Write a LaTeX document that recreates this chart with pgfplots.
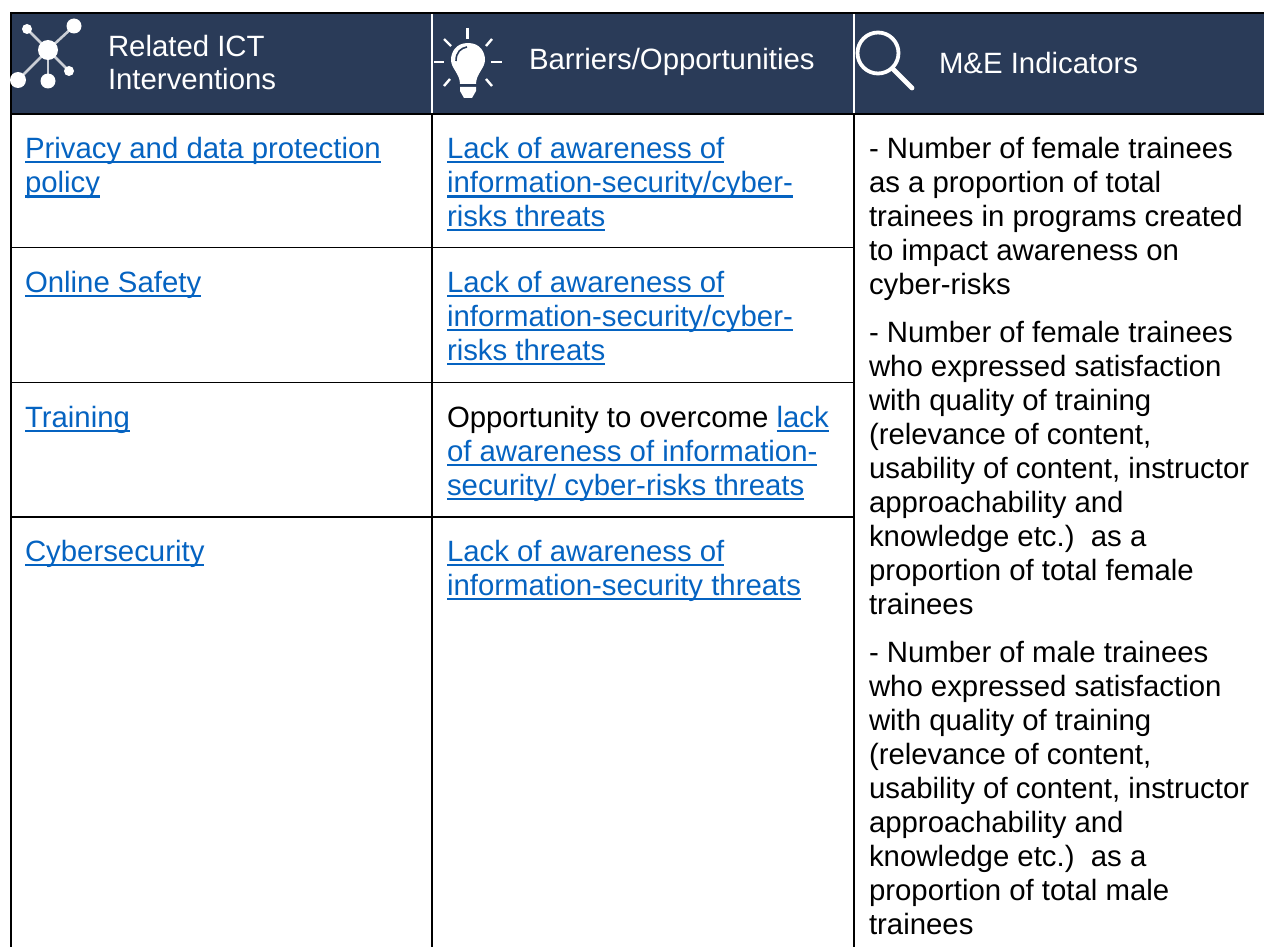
\documentclass[border=0pt]{standalone}
\usepackage{pgfplots}
\pgfplotsset{compat=1.18}
\usepackage{fontspec}
\setmainfont{Liberation Sans}
\definecolor{hdr}{HTML}{2A3B58}
\definecolor{lnk}{HTML}{0563C1}
\newcommand\T[3]{\node[anchor=base west,inner sep=0pt,outer sep=0pt] at (axis cs:#1,#2) {\fontsize{29.36}{34}\selectfont\strut#3};}
\newcommand\W[3]{\node[anchor=base west,inner sep=0pt,outer sep=0pt,text=white] at (axis cs:#1,#2) {\fontsize{29.36}{34}\selectfont\strut#3};}
\newsavebox\ulbox
\newcommand\U[1]{\sbox\ulbox{\color{lnk}#1}{\color{lnk}\rlap{\usebox\ulbox}\rule[-5.3pt]{\wd\ulbox}{2.3pt}}}
\begin{document}
\begin{tikzpicture}
\useasboundingbox (0pt,0pt) rectangle (1264pt,947pt);
\begin{axis}[at={(0pt,0pt)},anchor=south west,scale only axis,width=1264pt,height=947pt,
  xmin=0,xmax=1264,ymin=0,ymax=947,y dir=reverse,hide axis,clip=true]
\addplot[fill=hdr,draw=none] coordinates {(11,13) (1264,13) (1264,113) (11,113)} --cycle;
% table rules
\addplot[black,line width=2.2pt] coordinates {(10,13) (1264,13)};
\addplot[black,line width=2pt] coordinates {(10,114) (1264,114)};
\addplot[black,line width=1.9pt] coordinates {(11,12) (11,947)};
\addplot[black,line width=1.8pt] coordinates {(432,114) (432,947)};
\addplot[black,line width=1.8pt] coordinates {(854,114) (854,947)};
\addplot[white,line width=1.8pt] coordinates {(431.6,14) (431.6,113)};
\addplot[white,line width=1.8pt] coordinates {(854,14) (854,113)};
\addplot[black,line width=1.7pt] coordinates {(11,247.6) (854,247.6)};
\addplot[black,line width=1.7pt] coordinates {(11,382.6) (854,382.6)};
\addplot[black,line width=1.7pt] coordinates {(11,517) (854,517)};
% network icon
\addplot[white!75!hdr,line width=2.6pt] coordinates {(27,29) (48,50) (74,26)};
\addplot[white!75!hdr,line width=2.6pt] coordinates {(18,80) (48,50) (69,71)};
\addplot[white!75!hdr,line width=2.6pt] coordinates {(48,50) (48,81)};
\fill[white] (axis cs:48,50) circle (10pt);
\fill[white] (axis cs:74,26) circle (7.5pt);
\fill[white] (axis cs:27,29) circle (5pt);
\fill[white] (axis cs:18,80) circle (8pt);
\fill[white] (axis cs:48,81) circle (7.5pt);
\fill[white] (axis cs:69,71) circle (5pt);
% bulb icon
\fill[white] (axis cs:468,43) .. controls (axis cs:456,43) and (axis cs:451,52) .. (axis cs:451,60)
  .. controls (axis cs:451,68) and (axis cs:460,74) .. (axis cs:460,84) -- (axis cs:476,84)
  .. controls (axis cs:476,74) and (axis cs:485,68) .. (axis cs:485,60)
  .. controls (axis cs:485,52) and (axis cs:480,43) .. (axis cs:468,43) --cycle;
\draw[hdr,line width=1.6pt] (axis cs:456,61) .. controls (axis cs:456,52) and (axis cs:461,48) .. (axis cs:467,47);
\fill[white] (axis cs:460,87) -- (axis cs:476,87) -- (axis cs:476,91) -- (axis cs:472,98) -- (axis cs:464,98) -- (axis cs:460,91) --cycle;
\draw[white,line width=2.4pt] (axis cs:467.5,28) -- (axis cs:467.5,39);
\draw[white,line width=2.4pt] (axis cs:434,62) -- (axis cs:444,62);
\draw[white,line width=2.4pt] (axis cs:491,62) -- (axis cs:502,62);
\draw[white,line width=2.4pt] (axis cs:444,39) -- (axis cs:451,46);
\draw[white,line width=2.4pt] (axis cs:492,39) -- (axis cs:486,46);
\draw[white,line width=2.4pt] (axis cs:444,86) -- (axis cs:450,79);
\draw[white,line width=2.4pt] (axis cs:492,86) -- (axis cs:486,79);
% magnifier icon
\draw[white,line width=3.8pt] (axis cs:878,53) circle (20.5pt);
\draw[white,line width=4.8pt,line cap=round] (axis cs:893,69) -- (axis cs:912,88);
% text
\W{108}{57}{Related ICT}
\W{108}{90}{Interventions}
\W{529}{70}{Barriers/Opportunities}
\W{939}{74}{M\&E Indicators}
\T{25}{158}{\U{Privacy and data protection}}
\T{25}{192.4}{\U{policy}}
\T{25}{292}{\U{Online Safety}}
\T{25}{427}{\U{Training}}
\T{25}{561}{\U{Cybersecurity}}
\T{447}{158}{\U{Lack of awareness of}}
\T{447}{192.4}{\U{information-security/cyber-}}
\T{447}{226}{\U{risks threats}}
\T{447}{292}{\U{Lack of awareness of}}
\T{447}{326}{\U{information-security/cyber-}}
\T{447}{360}{\U{risks threats}}
\T{447}{427}{Opportunity to overcome \U{lack}}
\T{447}{461}{\U{of awareness of information-}}
\T{447}{495}{\U{security/ cyber-risks threats}}
\T{447}{561}{\U{Lack of awareness of}}
\T{447}{595}{\U{information-security threats}}
\T{869}{158}{- Number of female trainees}
\T{869}{192.4}{as a proportion of total}
\T{869}{226}{trainees in programs created}
\T{869}{260}{to impact awareness on}
\T{869}{294}{cyber-risks}
\T{869}{342}{- Number of female trainees}
\T{869}{376}{who expressed satisfaction}
\T{869}{410}{with quality of training}
\T{869}{444}{(relevance of content,}
\T{869}{478}{usability of content, instructor}
\T{869}{512}{approachability and}
\T{869}{546}{knowledge etc.)\ \ as a}
\T{869}{580}{proportion of total female}
\T{869}{614}{trainees}
\T{869}{662}{- Number of male trainees}
\T{869}{696}{who expressed satisfaction}
\T{869}{730}{with quality of training}
\T{869}{764}{(relevance of content,}
\T{869}{798}{usability of content, instructor}
\T{869}{832}{approachability and}
\T{869}{866}{knowledge etc.)\ \ as a}
\T{869}{900}{proportion of total male}
\T{869}{934}{trainees}
\end{axis}
\end{tikzpicture}
\end{document}
